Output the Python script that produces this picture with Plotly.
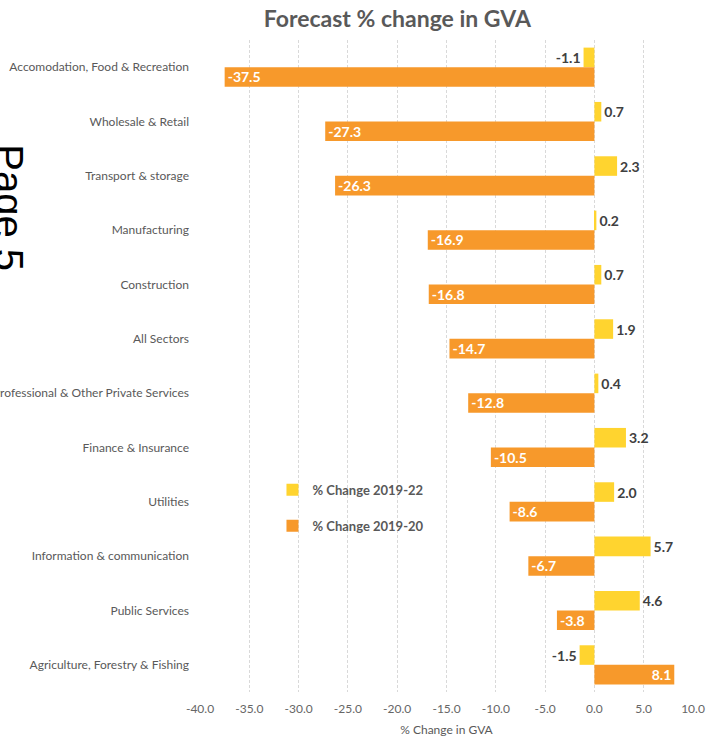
import plotly.graph_objects as go

sectors = [
    "Accomodation, Food & Recreation",
    "Wholesale & Retail",
    "Transport & storage",
    "Manufacturing",
    "Construction",
    "All Sectors",
    "Professional & Other Private Services",
    "Finance & Insurance",
    "Utilities",
    "Information & communication",
    "Public Services",
    "Agriculture, Forestry & Fishing",
]
change_2019_22 = [-1.1, 0.7, 2.3, 0.2, 0.7, 1.9, 0.4, 3.2, 2.0, 5.7, 4.6, -1.5]
change_2019_20 = [-37.5, -27.3, -26.3, -16.9, -16.8, -14.7, -12.8, -10.5, -8.6, -6.7, -3.8, 8.1]
tick_vals = [-40, -35, -30, -25, -20, -15, -10, -5, 0, 5, 10]
tick_text = ["%.1f" % v for v in tick_vals]

YELLOW = "#FFD42F"
ORANGE = "#F7992B"
GREY = "#595959"
FONT = "Lato"

fig = go.Figure()
fig.add_trace(go.Bar(
    y=sectors, x=change_2019_22, orientation="h",
    name="% Change 2019-22", marker=dict(color=YELLOW, line=dict(width=0)),
    text=["%.1f" % v for v in change_2019_22], textposition="outside",
    textfont=dict(family=FONT, size=14, color="#404040", weight="bold"),
    constraintext="none", cliponaxis=False, legendgroup="a",
))
fig.add_trace(go.Bar(
    y=sectors, x=change_2019_20, orientation="h",
    name="% Change 2019-20", marker=dict(color=ORANGE, line=dict(width=0)),
    text=["%.1f" % v for v in change_2019_20], textposition="inside",
    insidetextanchor="end", constraintext="none",
    textfont=dict(family=FONT, size=14, color="white", weight="bold"),
    legendgroup="b",
))

fig.add_annotation(
    text="Page 5", textangle=90, showarrow=False,
    xref="paper", yref="paper", x=-0.339, y=0.742, xanchor="right", yanchor="middle",
    font=dict(family="Liberation Sans", size=40, color="black"),
)

fig.update_layout(
    width=707, height=741,
    paper_bgcolor="white", plot_bgcolor="white",
    margin=dict(l=200, r=14, t=40, b=49, autoexpand=False),
    font=dict(family=FONT, size=12, color=GREY),
    title=dict(text="<b>Forecast % change in GVA</b>", x=0.562, xanchor="center",
               y=0.975, yanchor="middle", font=dict(family=FONT, size=23, color=GREY)),
    barmode="group", bargap=0.28, bargroupgap=0,
    xaxis=dict(
        range=[-40, 10], tickvals=tick_vals, ticktext=tick_text, automargin=False,
        showgrid=True, gridcolor="#D9D9D9", griddash="3px,2px", gridwidth=1,
        zeroline=False, showline=False, ticklabelstandoff=8,
        tickfont=dict(size=12, color="#666666"),
        title=dict(text="% Change in GVA", standoff=10, font=dict(size=12, color=GREY)),
    ),
    yaxis=dict(
        autorange="reversed", showgrid=False, showline=False, zeroline=False,
        automargin=False, ticks="", ticklabelstandoff=10,
        tickfont=dict(size=12, color=GREY),
    ),
    legend=dict(
        x=0.147, y=0.333, xanchor="left", yanchor="top",
        bgcolor="rgba(0,0,0,0)", traceorder="grouped", tracegroupgap=16,
        font=dict(family=FONT, size=13, color=GREY, weight="bold"),
    ),
)

fig.write_html(
    "out.html",
    config={"displayModeBar": False},
    post_script="document.body.style.margin='0';",
)
